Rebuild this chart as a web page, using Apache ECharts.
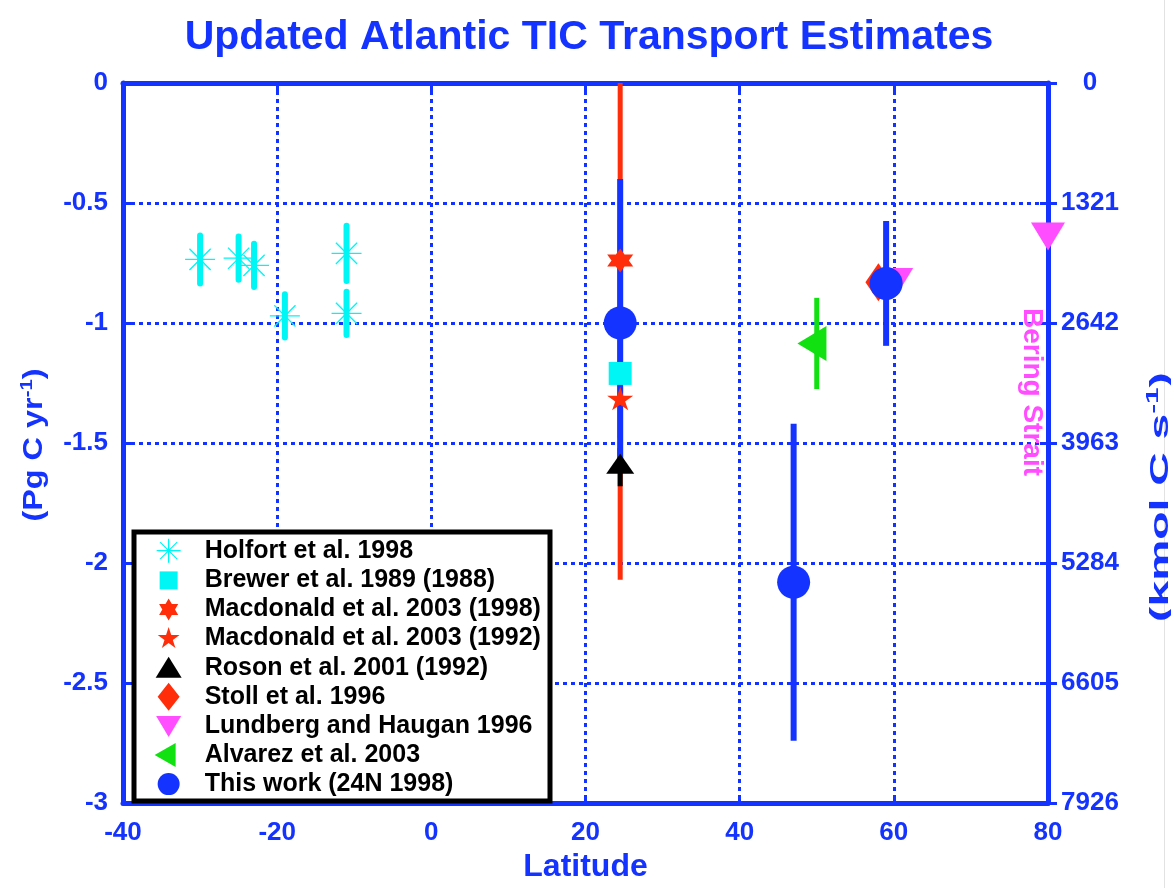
<!DOCTYPE html>
<html><head><meta charset="utf-8">
<script src="https://cdn.jsdelivr.net/npm/echarts@6/dist/echarts.min.js"></script>
<style>html,body{margin:0;padding:0;background:#fff}#c{width:1171px;height:888px}</style>
</head><body><div id="c"></div>
<script>
// ---------- data ----------
const xTicks = [-40, -20, 0, 20, 40, 60, 80];
const leftTicks = [0, -0.5, -1, -1.5, -2, -2.5, -3];
const rightTicks = [0, 1321, 2642, 3963, 5284, 6605, 7926];

const legendNames = ['Holfort et al. 1998', 'Brewer et al. 1989 (1988)', 'Macdonald et al. 2003 (1998)',
  'Macdonald et al. 2003 (1992)', 'Roson et al. 2001 (1992)', 'Stoll et al. 1996',
  'Lundberg and Haugan 1996', 'Alvarez et al. 2003', 'This work (24N 1998)'];

const holfortLat = [-30, -25, -23, -19, -11, -11];
const holfortVal = [-0.735, -0.73, -0.76, -0.97, -0.71, -0.96];
const holfortErr = [0.10, 0.09, 0.09, 0.09, 0.115, 0.09];

const brewerLat = [24.5];
const brewerVal = [-1.21];

const mac98Lat = [24.5];
const mac98Val = [-0.74];
const mac98Err = [0.74];

const mac92Lat = [24.5];
const mac92Val = [-1.32];
const mac92Err = [0.75];

const rosonLat = [24.5];
const rosonVal = [-1.6];
const rosonErr = [0.08];

const stollLat = [58];
const stollVal = [-0.83];

const lundLat = [60.3, 80];
const lundVal = [-0.81, -0.62];

const alvLat = [50];
const alvVal = [-1.085];
const alvErr = [0.19];

const thisLat = [24.5, 47, 59];
const thisVal = [-1.0, -2.08, -0.835];
const thisErr = [0.6, 0.66, 0.26];

// ---------- styling ----------
const BLUE = '#1433ff';
const CYAN = '#00f5f5';
const RED = '#ff2d0a';
const GREEN = '#11e011';
const MAG = '#ff4dff';
const FONT = "'Liberation Sans', Arial, sans-serif";

function starPath(n, R, r, pad) {
  let s = pad ? 'M0,' + pad + 'M0,' + (-pad) : '';
  for (let k = 0; k < 2 * n; k++) {
    const a = -Math.PI / 2 + k * Math.PI / n;
    const rr = k % 2 ? r : R;
    s += (k === 0 ? 'M' : 'L') + (rr * Math.cos(a)).toFixed(2) + ',' + (rr * Math.sin(a)).toFixed(2);
  }
  return s + 'Z';
}
const ASTER = 'M-12,0L12,0M0,-12L0,12M-8.5,-8.5L8.5,8.5M8.5,-8.5L-8.5,8.5';
const HEXA = starPath(6, 12, 12 / Math.sqrt(3), 0);
const PENTA = starPath(5, 12, 12 * 0.382, 12);
const TRI_UP = 'M0,13.33M0,-13.33L14,6.67L-14,6.67Z';
const TRI_DN = 'M0,-18.67M-17,-9.33L17,-9.33L0,18.67Z';
const TRI_LF = 'M19.3,0M-19.3,0L9.7,-17.5L9.7,17.5Z';

// legend icons in pixel units (bbox padded to 62x28)
const C = 'M-31,-14M31,14';
const icons = [
  C + ASTER,
  C + 'M-9,-9L9,-9L9,9L-9,9Z',
  C + starPath(6, 11, 11 / Math.sqrt(3), 0),
  C + starPath(5, 11.5, 11.5 * 0.382, 0),
  C + 'M0,-11L13,10L-13,10Z',
  C + 'M0,-14L11,0L0,14L-11,0Z',
  C + 'M-12.5,-10L12.5,-10L0,11Z',
  C + 'M-14,0L7,-12L7,12Z',
  C + 'M-11,0A11,11 0 1 1 11,0A11,11 0 1 1 -11,0Z'
];
const iconStyles = [
  {color: 'rgba(0,0,0,0)', borderColor: CYAN, borderWidth: 1.3},
  {color: CYAN, borderWidth: 0}, {color: RED, borderWidth: 0}, {color: RED, borderWidth: 0},
  {color: '#000', borderWidth: 0}, {color: RED, borderWidth: 0}, {color: MAG, borderWidth: 0},
  {color: GREEN, borderWidth: 0}, {color: BLUE, borderWidth: 0}
];

const zip = (a, b) => a.map((x, i) => [x, b[i]]);

function errSeries(id, lat, val, err, color, width, cap) {
  return {
    type: 'custom', id: id, silent: true, clip: false,
    data: lat.map((x, i) => [x, val[i] - err[i], val[i] + err[i]]),
    encode: {x: 0, y: [1, 2]},
    renderItem: function (params, api) {
      const p1 = api.coord([api.value(0), api.value(1)]);
      const p2 = api.coord([api.value(0), api.value(2)]);
      return {type: 'line', shape: {x1: p1[0], y1: p1[1], x2: p2[0], y2: p2[1]},
        style: {stroke: color, lineWidth: width, lineCap: cap || 'butt'}};
    }
  };
}
function sc(name, lat, val, symbol, size, style) {
  return {type: 'scatter', name: name, data: zip(lat, val), symbol: symbol, symbolSize: size,
    itemStyle: Object.assign({opacity: 1}, style), silent: true, clip: false};
}

const labelBase = {color: BLUE, fontSize: 26, fontWeight: 'bold', fontFamily: FONT, formatter: v => String(v)};
const dotted = {show: true, lineStyle: {color: BLUE, width: 3, type: [4, 4]}};

const option = {
  animation: false,
  backgroundColor: '#fff',
  grid: {left: 123, top: 83, width: 925, height: 725},
  xAxis: [{
    type: 'value', min: xTicks[0], max: xTicks[xTicks.length - 1], interval: 20, position: 'bottom',
    axisLine: {onZero: false, lineStyle: {color: BLUE, width: 5}},
    axisTick: {inside: true, length: 8, lineStyle: {color: BLUE, width: 3}},
    axisLabel: Object.assign({margin: 17}, labelBase),
    splitLine: dotted,
    name: 'Latitude', nameLocation: 'middle', nameGap: 44,
    nameTextStyle: {color: BLUE, fontSize: 32, fontWeight: 'bold', fontFamily: FONT}
  }, {
    type: 'value', min: xTicks[0], max: xTicks[xTicks.length - 1], interval: 20, position: 'top',
    axisLine: {onZero: false, lineStyle: {color: BLUE, width: 5}},
    axisTick: {inside: true, length: 8, lineStyle: {color: BLUE, width: 3}},
    axisLabel: {show: false}, splitLine: {show: false}
  }],
  yAxis: [{
    type: 'value', min: leftTicks[leftTicks.length - 1], max: leftTicks[0], interval: 0.5, position: 'left',
    axisLine: {onZero: false, lineStyle: {color: BLUE, width: 5}},
    axisTick: {inside: true, length: 8, lineStyle: {color: BLUE, width: 3}},
    axisLabel: Object.assign({margin: 15}, labelBase),
    splitLine: dotted
  }, {
    type: 'value', min: rightTicks[0], max: rightTicks[rightTicks.length - 1], interval: 1321, inverse: true, position: 'right',
    axisLine: {onZero: false, lineStyle: {color: BLUE, width: 5}},
    axisTick: {inside: false, length: 9, lineStyle: {color: BLUE, width: 3}},
    axisLabel: Object.assign({margin: 42, align: 'center'}, labelBase),
    splitLine: {show: false}
  }, {
    type: 'value', min: rightTicks[0], max: rightTicks[rightTicks.length - 1], interval: 1321, inverse: true, position: 'right',
    axisLine: {show: false, onZero: false},
    axisTick: {inside: true, length: 8, lineStyle: {color: BLUE, width: 3}},
    axisLabel: {show: false}, splitLine: {show: false}
  }],
  legend: {
    orient: 'vertical', left: 137, top: 536, padding: 0,
    itemWidth: 62, itemHeight: 28, itemGap: 1.1, selectedMode: false,
    textStyle: {color: '#000', fontSize: 25, fontWeight: 'bold', fontFamily: FONT, lineHeight: 28},
    data: legendNames.map((n, i) => ({name: n, icon: 'path://' + icons[i], itemStyle: iconStyles[i]}))
  },
  graphic: [
    {type: 'rect', z: 3, shape: {x: 134, y: 532, width: 416, height: 269},
      style: {fill: '#fff', stroke: '#000', lineWidth: 5}},
    {type: 'text', x: 589, y: 38, z: 5, style: {text: 'Updated Atlantic TIC Transport Estimates',
      fill: BLUE, font: "bold 41px 'Liberation Sans', Arial, sans-serif", align: 'center', verticalAlign: 'middle'}},
    {type: 'text', x: 1032, y: 392, rotation: -Math.PI / 2, z: 5, style: {text: 'Bering Strait',
      fill: MAG, font: "bold 28px 'Liberation Sans', Arial, sans-serif", align: 'center', verticalAlign: 'middle'}},
    {type: 'text', x: 35, y: 445, rotation: Math.PI / 2, scaleX: 1.2, z: 5, style: {
      text: '{a|(Pg C yr}{s|-1}{a|)}', align: 'center', verticalAlign: 'middle',
      rich: {a: {fill: BLUE, fontSize: 27, fontWeight: 'bold', fontFamily: FONT, lineHeight: 32},
             s: {fill: BLUE, fontSize: 17, fontWeight: 'bold', fontFamily: FONT, verticalAlign: 'top', lineHeight: 32}}}},
    {type: 'text', x: 1161, y: 497, rotation: Math.PI / 2, scaleX: 1.85, z: 5, style: {
      text: '{a|(kmol C s}{s|-1}{a|)}', align: 'center', verticalAlign: 'middle',
      rich: {a: {fill: BLUE, fontSize: 25, fontWeight: 'bold', fontFamily: FONT, lineHeight: 30},
             s: {fill: BLUE, fontSize: 16, fontWeight: 'bold', fontFamily: FONT, verticalAlign: 'top', lineHeight: 30}}}},
    {type: 'line', z: 1, shape: {x1: 1164.5, y1: 0, x2: 1164.5, y2: 888}, style: {stroke: '#e2e2e2', lineWidth: 1}}
  ],
  series: [
    errSeries('mac98err', mac98Lat, mac98Val, mac98Err, RED, 5),
    errSeries('mac92err', mac92Lat, mac92Val, mac92Err, RED, 5),
    errSeries('holerr', holfortLat, holfortVal, holfortErr, CYAN, 6, 'round'),
    sc(legendNames[0], holfortLat, holfortVal, 'path://' + ASTER, [30, 30], {color: 'rgba(0,0,0,0)', borderColor: CYAN, borderWidth: 1.3}),
    sc(legendNames[1], brewerLat, brewerVal, 'rect', [23, 23], {color: CYAN}),
    sc(legendNames[2], mac98Lat, mac98Val, 'path://' + HEXA, [26, 24], {color: RED}),
    sc(legendNames[3], mac92Lat, mac92Val, 'path://' + PENTA, [26, 26], {color: RED}),
    errSeries('rosonerr', rosonLat, rosonVal, rosonErr, '#000', 5),
    sc(legendNames[4], rosonLat, rosonVal, 'path://' + TRI_UP, [28, 26.7], {color: '#000'}),
    sc(legendNames[5], stollLat, stollVal, 'diamond', [26, 38], {color: RED}),
    sc(legendNames[6], lundLat, lundVal, 'path://' + TRI_DN, [34, 37.3], {color: MAG}),
    errSeries('alverr', alvLat, alvVal, alvErr, GREEN, 5),
    sc(legendNames[7], alvLat, alvVal, 'path://' + TRI_LF, [38.6, 35], {color: GREEN}),
    errSeries('thiserr', thisLat, thisVal, thisErr, BLUE, 6),
    sc(legendNames[8], thisLat, thisVal, 'circle', 33, {color: BLUE})
  ]
};

const chart = echarts.init(document.getElementById('c'), null, {renderer: 'canvas'});
chart.setOption(option);
</script>
</body></html>
